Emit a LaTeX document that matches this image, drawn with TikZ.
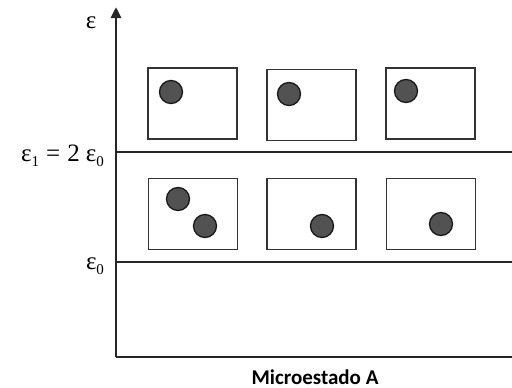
\documentclass[tikz,border=0pt]{standalone}
\usepackage{fontspec}
\setmainfont{Liberation Serif}
\newfontfamily\labfont{Carlito}
\usetikzlibrary{arrows.meta}
\newcommand{\lowsub}[1]{\raisebox{-5pt}{\fontsize{15}{15}\selectfont #1}}
\begin{document}
\begin{tikzpicture}[x=1pt,y=-1pt,
  level/.style={line width=2.7pt, draw=black!85},
  statebox/.style={draw=black!80, line width=1.5pt, minimum width=89pt, minimum height=71pt, inner sep=0pt},
  particle/.style={circle, draw=black!90, fill=black!68, line width=1.3pt, minimum size=23pt, inner sep=0pt},
  elabel/.style={font=\fontsize{25}{25}\selectfont, inner sep=0pt}]
\useasboundingbox (0,0) rectangle (512,388);
% axes
\coordinate (origin) at (116,357);
\coordinate (top) at (116,7);
\coordinate (right) at (512,357);
\draw[level, -{Triangle[length=11pt,width=10pt]}] (origin) -- (top);
\draw[level] (origin) -- (right);
% levels
\coordinate (e1l) at (116,152);
\coordinate (e1r) at (512,152);
\coordinate (e0l) at (116,262);
\coordinate (e0r) at (512,262);
\draw[level] (e1l) -- (e1r);
\draw[level] (e0l) -- (e0r);
% labels
\node[elabel] (eps) at (91,23) {ε};
\node[elabel, anchor=east] (e1lab) at (104,156) {ε\lowsub{1}\hspace{7pt}=\hspace{7pt}2\hspace{6pt}ε\lowsub{0}};
\node[elabel] (e0lab) at (95,266) {ε\lowsub{0}};
\node[font=\labfont\bfseries\fontsize{21}{21}\selectfont, inner sep=0pt, anchor=base] (micro) at (315,384) {Microestado A};
% upper boxes
\node[statebox] (b1) at (192.5,103.5) {};
\node[statebox] (b2) at (311.5,105) {};
\node[statebox] (b3) at (430.5,103.5) {};
% lower boxes
\node[statebox] (c1) at (193,214) {};
\node[statebox] (c2) at (311.5,214) {};
\node[statebox] (c3) at (431,214) {};
% particles
\node[particle] (p1) at (171,92) {};
\node[particle] (p2) at (289,94) {};
\node[particle] (p3) at (406,91) {};
\node[particle] (p4) at (178,199) {};
\node[particle] (p5) at (205,226) {};
\node[particle] (p6) at (322,226) {};
\node[particle] (p7) at (441,224) {};
\end{tikzpicture}
\end{document}
